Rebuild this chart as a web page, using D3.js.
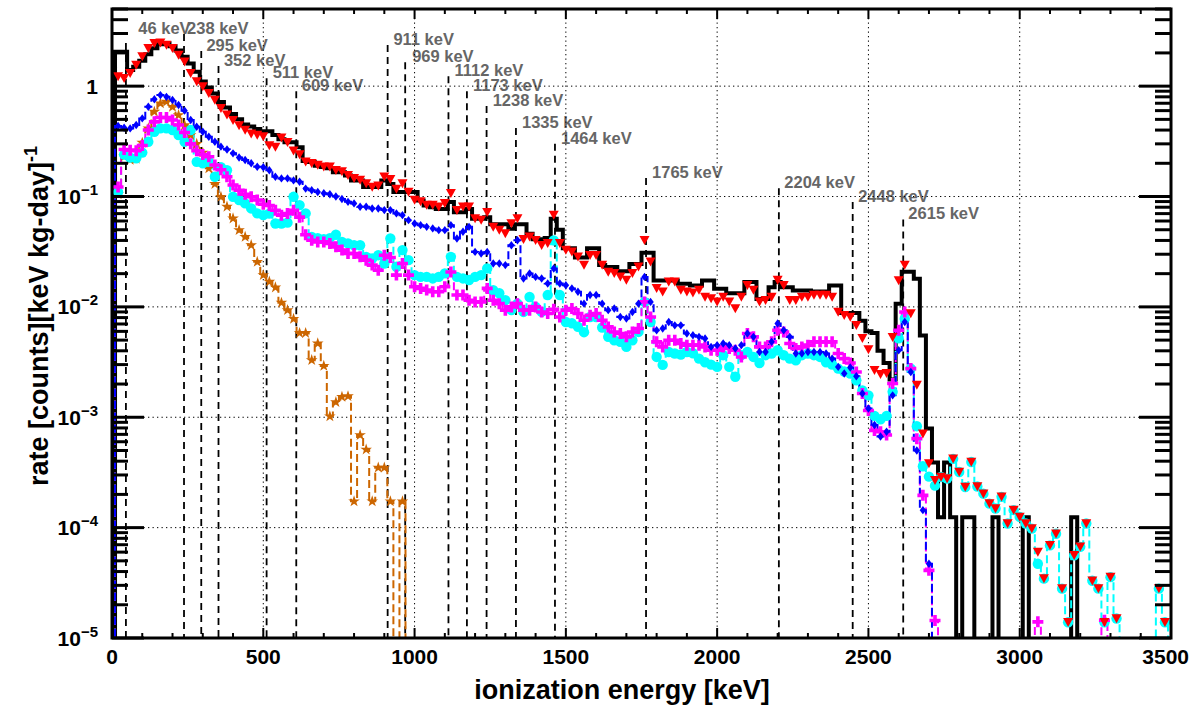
<!DOCTYPE html>
<html><head><meta charset="utf-8">
<script src="https://cdn.jsdelivr.net/npm/d3@7"></script>
<style>
body{margin:0;background:#fff;}
svg{display:block;font-family:"Liberation Sans",Arial,Helvetica,sans-serif;font-weight:bold;}
</style>
</head><body>
<svg id="chart" width="1190" height="710"></svg>
<script>
// ---------- data: 20 keV bins, centres 0,20,...,3500 keV ----------
const binCenters = d3.range(0, 3501, 20);

// measured data (black histogram)
const dataRate = [
0,2.05,2.05,1.4,1.5,1.7,1.95,2.2,2.4,2.45,
2.3,2.1,1.85,1.6,1.35,1.1,0.97,0.86,0.72,0.64,
0.56,0.5,0.45,0.43,0.41,0.39,0.39,0.36,0.33,0.31,
0.31,0.28,0.21,0.205,0.19,0.185,0.18,0.166,0.166,0.155,
0.14,0.14,0.122,0.122,0.122,0.14,0.13,0.11,0.11,0.11,
0.11,0.092,0.083,0.08,0.077,0.077,0.089,0.072,0.072,0.077,
0.063,0.063,0.065,0.056,0.056,0.056,0.051,0.056,0.056,0.046,
0.041,0.041,0.042,0.063,0.05,0.034,0.034,0.028,0.028,0.034,
0.034,0.024,0.023,0.023,0.021,0.021,0.0245,0.0245,0.031,0.031,
0.0173,0.0173,0.0173,0.0173,0.0162,0.0162,0.0156,0.0156,0.0173,0.0173,
0.0146,0.0146,0.0133,0.0133,0.0133,0.0168,0.0168,0.0118,0.0118,0.0151,
0.0168,0.0151,0.0151,0.0141,0.0141,0.0141,0.0138,0.0138,0.0138,0.0156,
0.0156,0.0088,0.0088,0.0088,0.0075,0.006,0.0058,0.004,0.0031,0.0022,
0.0107,0.0208,0.0208,0.018,0.0055,0.00079,0.00039,0.000124,0.00039,0.000124,
0,0.000124,0.000124,0,0,0,0.000124,0,0,0,
0,0.000124,0,0,0,0,0,0,0,0.000124,
0,0,0,0,0,0,0,0,0,0,
0,0,0,0,0,0];

// total simulation (red triangles)
const simTotal = [
0,1.22,1.18,1.31,1.55,1.85,2.2,2.44,2.47,2.36,
2.2,1.91,1.66,1.31,1.1,0.99,0.86,0.75,0.63,0.55,
0.49,0.44,0.40,0.37,0.36,0.35,0.29,0.28,0.34,0.31,
0.26,0.24,0.206,0.2,0.193,0.186,0.186,0.173,0.168,0.156,
0.146,0.141,0.131,0.122,0.125,0.151,0.143,0.117,0.131,0.11,
0.093,0.09,0.0836,0.0836,0.0807,0.087,0.107,0.075,0.0807,0.0807,
0.0633,0.0611,0.072,0.053,0.0496,0.0463,0.057,0.0633,0.041,0.0431,
0.0402,0.0362,0.0376,0.0678,0.0376,0.0327,0.0315,0.0284,0.0239,0.0294,
0.0294,0.0239,0.0207,0.0201,0.0187,0.0175,0.0201,0.0231,0.0402,0.0256,
0.0147,0.0137,0.0169,0.0169,0.0142,0.0137,0.0134,0.0142,0.0123,0.0119,
0.0111,0.0123,0.0111,0.00967,0.0123,0.0157,0.0142,0.0111,0.0115,0.0123,
0.0175,0.0157,0.0115,0.0115,0.0123,0.0123,0.0128,0.0128,0.0128,0.0123,
0.009,0.0084,0.0081,0.0068,0.0052,0.0041,0.00267,0.00245,0.0025,0.0053,
0.0173,0.0239,0.0087,0.00196,0.00071,0.00038,0.000269,0.000288,0.000278,0.00042,
0.000319,0.000233,0.000393,0.000236,0.000203,0.000165,0.000149,0.00019,0.000109,0.000144,
0.000125,0.000109,0.000098,0.00006,0.0000345,0.000069,0.000088,0.000028,0.0000139,0.000056,
0.000067,0.000109,0.000033,0.000028,0.0000139,0.0000356,0.000015,0,0,0,
0,0,0,0.000028,0.0000139,0];

// component (blue)
const simBlue = [
0,0.435,0.42,0.414,0.444,0.51,0.65,0.76,0.83,0.8,
0.748,0.674,0.6,0.493,0.428,0.386,0.348,0.313,0.283,0.267,
0.246,0.226,0.214,0.2,0.186,0.184,0.173,0.151,0.146,0.146,
0.14,0.136,0.118,0.114,0.11,0.107,0.105,0.1,0.095,0.0895,
0.0866,0.0807,0.0807,0.078,0.078,0.0753,0.0753,0.0703,0.0678,0.0611,
0.057,0.055,0.0531,0.0514,0.0496,0.0496,0.055,0.0417,0.0479,0.0531,
0.0315,0.0305,0.0315,0.0247,0.0247,0.0239,0.0362,0.0402,0.0181,0.0201,
0.0187,0.0181,0.0163,0.0223,0.0163,0.0157,0.0147,0.0137,0.0107,0.0128,
0.0128,0.0107,0.00934,0.00967,0.0081,0.00785,0.009,0.0107,0.0187,0.0111,
0.00615,0.00637,0.0073,0.0068,0.0068,0.00574,0.00554,0.00535,0.00517,0.00434,
0.0045,0.00466,0.0045,0.0042,0.0045,0.00574,0.00535,0.0039,0.0039,0.00482,
0.00707,0.00615,0.00535,0.00378,0.00378,0.0039,0.0039,0.0039,0.00378,0.0034,
0.00286,0.00249,0.00282,0.00235,0.00164,0.0012,0.00085,0.00067,0.00074,0.00158,
0.00405,0.0073,0.00257,0.0005,0.000144,0.000047,0,0,0,0,
0,0,0,0,0,0,0,0,0,0,
0,0,0,0,0,0,0,0,0,0,
0,0,0,0,0,0,0,0,0,0,
0,0,0,0,0,0];

// component (magenta)
const simMagenta = [
0,0.122,0.267,0.263,0.26,0.29,0.4,0.475,0.52,0.52,
0.493,0.444,0.38,0.3,0.26,0.24,0.229,0.193,0.175,0.151,
0.127,0.114,0.105,0.0994,0.093,0.085,0.083,0.075,0.0678,0.07,
0.075,0.065,0.045,0.0402,0.0388,0.0388,0.0376,0.035,0.0327,0.0305,
0.0305,0.0284,0.0265,0.0239,0.0215,0.0294,0.028,0.0194,0.0247,0.0194,
0.0152,0.0147,0.0142,0.0137,0.0137,0.0152,0.0207,0.0128,0.0128,0.0115,
0.0111,0.0111,0.0147,0.0115,0.0107,0.00934,0.01,0.0107,0.00934,0.00934,
0.01,0.009,0.0087,0.0095,0.0081,0.00934,0.00967,0.0087,0.00757,0.0084,
0.0087,0.00757,0.00659,0.00593,0.00574,0.00535,0.00593,0.00637,0.0111,0.0081,
0.00482,0.00434,0.00499,0.00499,0.00466,0.0045,0.0045,0.0045,0.00434,0.00405,
0.00405,0.00434,0.0042,0.00405,0.00352,0.00574,0.00535,0.00434,0.00434,0.00482,
0.00615,0.00593,0.00466,0.0042,0.00434,0.0045,0.00482,0.00482,0.00482,0.00482,
0.00378,0.0034,0.0031,0.00257,0.00164,0.00115,0.00076,0.00074,0.00069,0.00202,
0.00615,0.009,0.00276,0.00064,0.000196,0.000041,0.0000144,0,0,0,
0,0,0,0,0,0,0,0,0,0,
0,0,0,0.000014,0,0,0,0,0,0,
0,0,0,0,0.0000145,0,0,0,0,0,
0,0,0,0,0,0];

// component (cyan)
const simCyan = [
0,0.11,0.24,0.225,0.222,0.25,0.313,0.386,0.414,0.414,
0.4,0.36,0.313,0.4,0.206,0.2,0.206,0.151,0.184,0.173,
0.0994,0.093,0.0866,0.078,0.0703,0.0678,0.07,0.057,0.057,0.058,
0.0994,0.0836,0.0703,0.0431,0.042,0.041,0.042,0.045,0.0388,0.0376,
0.0362,0.0362,0.0284,0.0274,0.0294,0.0247,0.0417,0.0231,0.0327,0.0265,
0.0194,0.0187,0.0187,0.0181,0.0187,0.0201,0.0284,0.0187,0.0181,0.0175,
0.0187,0.0194,0.0223,0.0142,0.0133,0.0115,0.00934,0.0107,0.009,0.0123,
0.01,0.009,0.0128,0.04,0.0128,0.0073,0.0071,0.0066,0.0059,0.0081,
0.0081,0.0065,0.00535,0.00499,0.00482,0.00434,0.00499,0.00593,0.0111,0.0073,
0.00352,0.00298,0.0039,0.00378,0.0037,0.0039,0.0038,0.0034,0.00315,0.003,
0.00286,0.00365,0.00286,0.00233,0.00365,0.0039,0.00352,0.0031,0.00365,0.00378,
0.00405,0.00365,0.0034,0.00328,0.00365,0.00378,0.00365,0.00352,0.00315,0.003,
0.00276,0.0026,0.00249,0.00216,0.00175,0.00158,0.00103,0.00096,0.00103,0.0017,
0.0052,0.0078,0.00276,0.00083,0.00036,0.00029,0.00024,0.000288,0.000278,0.00042,
0.000319,0.000233,0.000393,0.000236,0.000203,0.000165,0.000149,0.00019,0.000109,0.000144,
0.000125,0.000109,0.000098,0.000047,0.0000345,0.000069,0.000088,0.000028,0.0000139,0.000056,
0.000067,0.000109,0.000033,0.000028,0.0000139,0.0000356,0.000015,0,0,0,
0,0,0,0.000028,0.0000139,0];

// component (orange)
const simOrange = [
0,0.105,0.23,0.215,0.22,0.307,0.414,0.586,0.698,0.722,
0.65,0.547,0.444,0.36,0.3,0.25,0.18,0.13,0.0994,0.0808,
0.0633,0.0496,0.0431,0.0362,0.0256,0.0194,0.0169,0.015,0.0109,0.00934,
0.0078,0.0058,0.0058,0.00329,0.00466,0.00292,0.00102,0.00137,0.00153,0.00155,
0.000173,0.00069,0.00051,0.000173,0.00035,0.00035,0.000173,0,0.000173,0,
0,0,0,0,0,0,0,0,0,0,
0,0,0,0,0,0,0,0,0,0,
0,0,0,0,0,0,0,0,0,0,
0,0,0,0,0,0,0,0,0,0,
0,0,0,0,0,0,0,0,0,0,
0,0,0,0,0,0,0,0,0,0,
0,0,0,0,0,0,0,0,0,0,
0,0,0,0,0,0,0,0,0,0,
0,0,0,0,0,0,0,0,0,0,
0,0,0,0,0,0,0,0,0,0,
0,0,0,0,0,0,0,0,0,0,
0,0,0,0,0,0,0,0,0,0,
0,0,0,0,0,0];

// gamma lines
const peakEnergies = [46,238,295,352,511,609,911,969,1112,1173,1238,1335,1464,1765,2204,2448,2615];
const peakLineTop  = [2.46,2.97,2.08,1.52,1.18,0.90,2.36,1.65,1.23,0.90,0.66,0.417,0.30,0.147,0.119,0.089,0.062];
const peakLabelE   = [87,248,312,370,531,627,930,992,1132,1193,1258,1355,1484,1785,2222,2466,2632];
const peakLabelV   = [2.97,2.97,2.08,1.52,1.18,0.90,2.36,1.65,1.23,0.90,0.66,0.417,0.30,0.147,0.119,0.089,0.062];

const xTicks = [0,500,1000,1500,2000,2500,3000,3500];
const yTicks = [1e-5,1e-4,1e-3,1e-2,1e-1,1];
const yTickLabels = [["10","\u22125"],["10","\u22124"],["10","\u22123"],["10","\u22122"],["10","\u22121"],["1",""]];

// ---------- drawing ----------
const svg = d3.select('#chart');
const M = {l:112, r:1171, t:9, b:638};
const x = d3.scaleLinear().domain([0,3500]).range([M.l, M.r]);
const y = d3.scaleLog().domain([1e-5,5]).range([M.b, M.t]);
const FLOOR = 1e-7;
const yv = v => y(v > 0 ? v : FLOOR);
const half = 10;

svg.append('rect').attr('width',1190).attr('height',710).attr('fill','#fff');
svg.append('defs').append('clipPath').attr('id','clip')
  .append('rect').attr('x',M.l).attr('y',M.t).attr('width',M.r-M.l).attr('height',M.b-M.t);

// peak labels
const gLab = svg.append('g').attr('fill','#666').attr('font-size',16.5);
peakEnergies.forEach((e,i)=>{
  gLab.append('text').attr('x',x(peakLabelE[i])).attr('y',y(peakLabelV[i])).text(e+' keV');
});

// grid
const gGrid = svg.append('g').attr('stroke','#000').attr('stroke-width',1).attr('stroke-dasharray','1.3,3.2');
xTicks.filter(v=>v>0 && v<3500).forEach(v=>{
  gGrid.append('line').attr('x1',x(v)).attr('x2',x(v)).attr('y1',M.t).attr('y2',M.b);
});
yTicks.filter(v=>v>1e-5).forEach(v=>{
  gGrid.append('line').attr('x1',M.l).attr('x2',M.r).attr('y1',y(v)).attr('y2',y(v));
});

// peak lines
const gPk = svg.append('g').attr('stroke','#000').attr('stroke-width',1.8).attr('stroke-dasharray','7,5');
peakEnergies.forEach((e,i)=>{
  gPk.append('line').attr('x1',x(e)).attr('x2',x(e)).attr('y1',y(peakLineTop[i])).attr('y2',M.b);
});

const plot = svg.append('g').attr('clip-path','url(#clip)');

function stepPath(vals){
  const pts = vals.map((v,k)=>[x(binCenters[k]-half), yv(v)]);
  const last = vals.length-1;
  pts.push([x(binCenters[last]+half), yv(vals[last])]);
  return d3.line().curve(d3.curveStepAfter)(pts);
}

// black data histogram
plot.append('path').attr('d',stepPath(dataRate)).attr('fill','none')
  .attr('stroke','#000').attr('stroke-width',4).attr('stroke-linejoin','miter');

const series = [
  {vals:simOrange,  color:'#cc6600', shape:'star'},
  {vals:simCyan,    color:'#00ffff', shape:'circle'},
  {vals:simMagenta, color:'#ff00ff', shape:'plus'},
  {vals:simBlue,    color:'#0000ff', shape:'diamond'},
];
const shapes = {
  circle: 'M5.2,0A5.2,5.2 0 1,1 -5.2,0A5.2,5.2 0 1,1 5.2,0Z',
  plus: 'M-1.8,-5.5h3.6v3.7h3.7v3.6h-3.7v3.7h-3.6v-3.7h-3.7v-3.6h3.7z',
  diamond: 'M0,-4.2L3.2,0L0,4.2L-3.2,0Z',
  star: d3.symbol(d3.symbolStar, 42)(),
  tri: 'M-5,-4.3L5,-4.3L0,4.7Z'
};
series.forEach(s=>{
  plot.append('path').attr('d',stepPath(s.vals)).attr('fill','none')
    .attr('stroke',s.color).attr('stroke-width',2).attr('stroke-dasharray','8,4');
});
series.forEach(s=>{
  plot.append('g').selectAll('path').data(s.vals.map((v,k)=>[binCenters[k],v]).filter(d=>d[1]>=1e-5))
    .join('path').attr('d',shapes[s.shape]).attr('fill',s.color)
    .attr('transform',d=>`translate(${x(d[0])},${y(d[1])})`);
});
// red total simulation markers
plot.append('g').selectAll('path').data(simTotal.map((v,k)=>[binCenters[k],v]).filter(d=>d[1]>=1e-5))
  .join('path').attr('d',shapes.tri).attr('fill','#ff0000')
  .attr('transform',d=>`translate(${x(d[0])},${y(d[1])})`);

// ticks
const gT = svg.append('g').attr('stroke','#000');
yTicks.forEach(v=>{
  [[M.l, M.l+32],[M.r-32, M.r]].forEach(([a,b])=>
    gT.append('line').attr('x1',a).attr('x2',b).attr('y1',y(v)).attr('y2',y(v)).attr('stroke-width',3));
});
yTicks.forEach(v=>{
  for(let m=2;m<=9;m++){
    const t=v*m; if(t>5) continue;
    [[M.l, M.l+16],[M.r-16, M.r]].forEach(([a,b])=>
      gT.append('line').attr('x1',a).attr('x2',b).attr('y1',y(t)).attr('y2',y(t)).attr('stroke-width',3));
  }
});
for(let e=0;e<=3500;e+=100){
  const len = (e%500===0)?10:5;
  gT.append('line').attr('x1',x(e)).attr('x2',x(e)).attr('y1',M.b).attr('y2',M.b-len).attr('stroke-width',2);
  gT.append('line').attr('x1',x(e)).attr('x2',x(e)).attr('y1',M.t).attr('y2',M.t+len).attr('stroke-width',2);
}

// frame
svg.append('rect').attr('x',M.l).attr('y',M.t).attr('width',M.r-M.l).attr('height',M.b-M.t)
  .attr('fill','none').attr('stroke','#000').attr('stroke-width',3);

// tick labels
const gL = svg.append('g').attr('font-size',21).attr('fill','#000');
xTicks.forEach(v=>{
  const t = gL.append('text').attr('y',664).text(v);
  if (x(v) + 26 > 1190) t.attr('x',1189).attr('text-anchor','end');
  else t.attr('x',x(v)).attr('text-anchor','middle');
});
yTicks.forEach((v,i)=>{
  const t = gL.append('text').attr('x',98).attr('y',y(v)+7.5).attr('text-anchor','end');
  t.append('tspan').text(yTickLabels[i][0]);
  if(yTickLabels[i][1]) t.append('tspan').attr('font-size',15).attr('dy',-9).text(yTickLabels[i][1]);
});

// axis titles
svg.append('text').attr('x',622).attr('y',699).attr('text-anchor','middle').attr('font-size',27).text('ionization energy [keV]');
const yt = svg.append('text').attr('transform','translate(48,316) rotate(-90)').attr('text-anchor','middle').attr('font-size',27);
yt.append('tspan').text('rate [counts][keV kg-day]');
yt.append('tspan').attr('font-size',18).attr('dy',-11).text('-1');
</script>
</body></html>
